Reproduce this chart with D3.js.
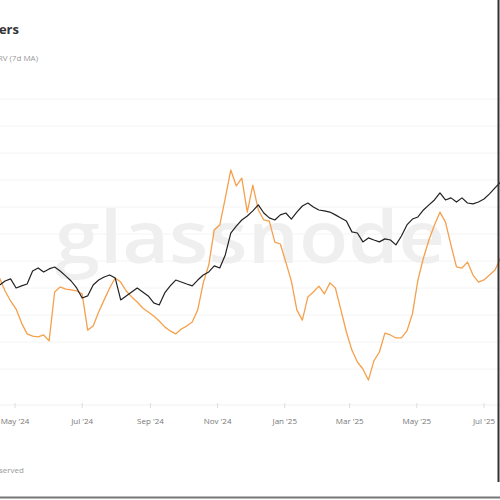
<!DOCTYPE html>
<html>
<head>
<meta charset="utf-8">
<script src="https://cdn.jsdelivr.net/npm/d3@7"></script>
<style>
  body { margin: 0; background: #fff; }
  svg { display: block; font-family: "Open Sans", "DejaVu Sans", sans-serif; }
</style>
</head>
<body>
<script>
// dates, 5 days apart
var dates = [
  "2024-04-17","2024-04-22","2024-04-27","2024-05-02","2024-05-07","2024-05-12","2024-05-17","2024-05-22","2024-05-27",
  "2024-06-01","2024-06-06","2024-06-11","2024-06-16","2024-06-21","2024-06-26",
  "2024-07-01","2024-07-06","2024-07-11","2024-07-16","2024-07-21","2024-07-26","2024-07-31",
  "2024-08-05","2024-08-10","2024-08-15","2024-08-20","2024-08-25","2024-08-30",
  "2024-09-04","2024-09-09","2024-09-14","2024-09-19","2024-09-24","2024-09-29",
  "2024-10-04","2024-10-09","2024-10-14","2024-10-19","2024-10-24","2024-10-29",
  "2024-11-03","2024-11-08","2024-11-13","2024-11-18","2024-11-23","2024-11-28",
  "2024-12-03","2024-12-08","2024-12-13","2024-12-18","2024-12-23","2024-12-28",
  "2025-01-02","2025-01-07","2025-01-12","2025-01-17","2025-01-22","2025-01-27",
  "2025-02-01","2025-02-06","2025-02-11","2025-02-16","2025-02-21","2025-02-26",
  "2025-03-03","2025-03-08","2025-03-13","2025-03-18","2025-03-23","2025-03-28",
  "2025-04-02","2025-04-07","2025-04-12","2025-04-17","2025-04-22","2025-04-27",
  "2025-05-02","2025-05-07","2025-05-12","2025-05-17","2025-05-22","2025-05-27",
  "2025-06-01","2025-06-06","2025-06-11","2025-06-16","2025-06-21","2025-06-26",
  "2025-07-01","2025-07-06","2025-07-11","2025-07-16"
];

// BTC price, thousands USD (black)
var price = [
  64.0, 66.1, 67.2, 62.4, 63.5, 64.5, 71.4, 73.0, 70.9,
  72.5, 73.5, 71.4, 68.8, 66.1, 62.4,
  57.1, 58.2, 64.0, 66.6, 68.2, 69.3, 67.7,
  56.1, 58.2, 60.3, 62.4, 60.3, 58.2,
  54.5, 53.4, 59.8, 63.5, 66.6, 65.6,
  64.5, 63.5, 66.6, 69.3, 70.9, 74.1,
  73.0, 79.9, 91.5, 95.2, 98.4, 100.5,
  103.2, 106.4, 102.1, 99.5, 98.4, 101.1,
  102.1, 98.9, 102.6, 105.8, 107.4, 105.3,
  103.7, 103.2, 102.6, 101.1, 99.5, 97.9,
  92.1, 91.5, 86.8, 88.9, 87.8, 86.8,
  88.4, 87.8, 85.2, 89.9, 95.8, 98.9,
  100.0, 103.7, 106.4, 109.0, 112.7, 109.0,
  110.1, 107.9, 110.1, 107.4, 106.9, 107.9,
  109.5, 112.2, 115.4, 118.5
];

// holder metric (orange)
var metric = [
  43.7, 38.9, 35.2, 32.2, 27.0, 23.0, 22.2, 21.9, 22.6,
  20.4, 38.5, 40.4, 39.6, 39.3, 38.9,
  37.8, 24.4, 25.9, 31.1, 35.6, 40.0, 43.7,
  42.2, 38.9, 36.7, 34.8, 32.6, 31.1,
  29.6, 27.8, 25.6, 24.1, 23.0, 24.8,
  25.9, 27.4, 31.9, 41.9, 48.5, 61.5,
  63.3, 73.3, 83.7, 77.8, 80.7, 68.1,
  78.1, 68.9, 65.2, 64.8, 57.0, 56.3,
  49.6, 42.6, 31.9, 28.1, 36.7, 38.5,
  40.7, 37.8, 41.9, 40.0, 31.9, 23.7,
  17.0, 12.6, 10.0, 5.9, 13.0, 16.3,
  23.3, 22.6, 21.5, 21.5, 24.1, 30.4,
  43.0, 51.1, 57.8, 63.3, 68.1, 64.4,
  55.9, 47.8, 47.4, 49.6, 44.8, 42.2,
  43.0, 44.8, 46.7, 51.1
];

var tickDates = ["2024-05-01","2024-07-01","2024-09-01","2024-11-01","2025-01-01","2025-03-01","2025-05-01","2025-07-01"];
var tickLabels = ["May '24","Jul '24","Sep '24","Nov '24","Jan '25","Mar '25","May '25","Jul '25"];

var width = 500, height = 500;
var parse = d3.utcParse("%Y-%m-%d");

var svg = d3.select("body").append("svg")
  .attr("width", width)
  .attr("height", height);

var x = d3.scaleUtc()
  .domain([parse("2024-05-01"), parse("2025-07-01")])
  .range([15, 484]);

var yPrice = d3.scaleLinear().domain([40, 130]).range([330.3, 160.3]);
var yMetric = d3.scaleLinear().domain([0, 110]).range([396, 99]);

// grid
svg.append("g")
  .selectAll("line")
  .data(d3.range(10, 111, 10))
  .enter().append("line")
  .attr("x1", 0).attr("x2", width)
  .attr("y1", function(d) { return yMetric(d); })
  .attr("y2", function(d) { return yMetric(d); })
  .attr("stroke", "#f4f4f4")
  .attr("stroke-width", 1);

// watermark
svg.append("text")
  .attr("x", 250)
  .attr("y", 263)
  .attr("text-anchor", "middle")
  .attr("font-size", 72)
  .attr("font-weight", 600)
  .attr("textLength", 390)
  .attr("lengthAdjust", "spacingAndGlyphs")
  .attr("fill", "#efefef")
  .text("glassnode");

// x axis
var axis = svg.append("g").attr("transform", "translate(0,405)");
axis.append("line")
  .attr("x1", 0).attr("x2", width)
  .attr("stroke", "#f0f0f0");
axis.selectAll(".tick")
  .data(tickDates)
  .enter().append("line")
  .attr("x1", function(d) { return x(parse(d)); })
  .attr("x2", function(d) { return x(parse(d)); })
  .attr("y1", -2).attr("y2", 3)
  .attr("stroke", "#dddddd");
axis.selectAll(".lbl")
  .data(tickDates)
  .enter().append("text")
  .attr("x", function(d) { return x(parse(d)); })
  .attr("y", 19)
  .attr("text-anchor", "middle")
  .attr("font-size", 8)
  .attr("fill", "#777")
  .text(function(d, i) { return tickLabels[i]; });

var data = dates.map(function(d, i) {
  return { date: parse(d), price: price[i], metric: metric[i] };
});

var metricLine = d3.line()
  .x(function(d) { return x(d.date); })
  .y(function(d) { return yMetric(d.metric); });

var priceLine = d3.line()
  .x(function(d) { return x(d.date); })
  .y(function(d) { return yPrice(d.price); });

svg.append("path")
  .datum(data)
  .attr("d", metricLine)
  .attr("fill", "none")
  .attr("stroke", "#f5a04c")
  .attr("stroke-width", 1.3)
  .attr("stroke-linejoin", "round");

svg.append("path")
  .datum(data)
  .attr("d", priceLine)
  .attr("fill", "none")
  .attr("stroke", "#222")
  .attr("stroke-width", 1.2)
  .attr("stroke-linejoin", "round");

// title block, cut off at the left edge like the source crop
svg.append("text")
  .attr("x", 19).attr("y", 34)
  .attr("text-anchor", "end")
  .attr("font-size", 13)
  .attr("font-weight", "bold")
  .attr("fill", "#333")
  .text("Bitcoin: Short-Term Holders");

svg.append("text")
  .attr("x", 38).attr("y", 61)
  .attr("text-anchor", "end")
  .attr("font-size", 8)
  .attr("fill", "#999")
  .text("Short-Term Holder MVRV (7d MA)");

svg.append("text")
  .attr("x", 24).attr("y", 473)
  .attr("text-anchor", "end")
  .attr("font-size", 8)
  .attr("fill", "#999")
  .text("© 2025 Glassnode. All Rights Reserved");

// frame edges
svg.append("line")
  .attr("x1", 498.5).attr("x2", 498.5)
  .attr("y1", 0).attr("y2", 482)
  .attr("stroke", "#333").attr("stroke-width", 2);
svg.append("line")
  .attr("x1", 0).attr("x2", width)
  .attr("y1", 497.5).attr("y2", 497.5)
  .attr("stroke", "#777").attr("stroke-width", 2);
</script>
</body>
</html>
